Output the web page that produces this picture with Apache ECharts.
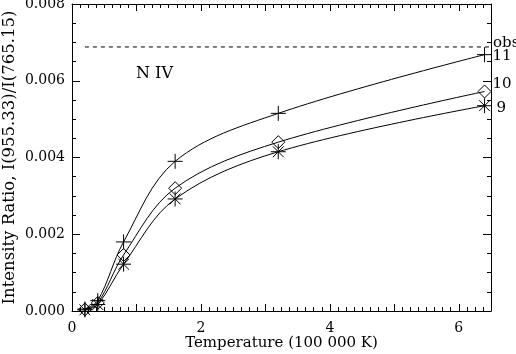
<!DOCTYPE html>
<html><head><meta charset="utf-8">
<script src="https://cdn.jsdelivr.net/npm/echarts@6/dist/echarts.min.js"></script>
<style>html,body{margin:0;padding:0;background:#fff}#c{width:516px;height:354px}</style>
</head><body><div id="c"></div>
<script>
var temps = [0.2, 0.4, 0.8, 1.6, 3.2, 6.4];
var ratio11 = [0.00005, 0.00027, 0.00180, 0.00390, 0.00515, 0.00668];
var ratio10 = [0.00004, 0.00021, 0.00146, 0.00320, 0.00440, 0.00572];
var ratio9  = [0.00003, 0.00017, 0.00122, 0.00292, 0.00415, 0.00535];
var obsValue = 0.00688;
var obsRange = [0.2, 6.5];
var seriesNames = ['11', '10', '9'];
var xTickLabels = [0, 2, 4, 6];
var yTickLabels = ['0.000', '0.002', '0.004', '0.006', '0.008'];

var FONT = 'DejaVu Serif';
var chart = echarts.init(document.getElementById('c'), null, {renderer: 'canvas'});
function pairs(ys){ return temps.map(function(t,i){ return [t, ys[i]]; }); }
var symPlus = 'path://M0,-1L0,1M-1,0L1,0';
var symDiamond = 'path://M0,-1L1,0L0,1L-1,0Z';
var symStar = 'path://M0,-1L0,1M-1,0L1,0M-0.72,-0.72L0.72,0.72M-0.72,0.72L0.72,-0.72';
var syms = [symPlus, symDiamond, symStar];
var sets = [ratio11, ratio10, ratio9];
var labelOffsets = [[0, 1], [0, -7], [4, 2]];

function xAxisCfg(pos, showLabel) {
  return {
    type: 'value', position: pos, min: 0, max: 6.5, interval: 1,
    axisLine: {show: true, onZero: false, lineStyle: {color: '#000', width: 1}},
    axisTick: {show: true, inside: true, length: 7, lineStyle: {color: '#000'}},
    minorTick: {show: true, splitNumber: 8, length: 4, lineStyle: {color: '#000'}},
    splitLine: {show: false}, minorSplitLine: {show: false},
    axisLabel: {show: showLabel, margin: 10, color: '#000', fontFamily: FONT, fontSize: 14,
      formatter: function(v){ return xTickLabels.indexOf(v) >= 0 ? String(v) : ''; }},
    name: showLabel ? 'Temperature (100 000 K)' : '', nameLocation: 'middle', nameGap: 25,
    nameMoveOverlap: false,
    nameTextStyle: {color: '#000', fontFamily: FONT, fontSize: 15}
  };
}
function yAxisCfg(pos, showLabel) {
  return {
    type: 'value', position: pos, min: 0, max: 0.008, interval: 0.002,
    axisLine: {show: true, onZero: false, lineStyle: {color: '#000', width: 1}},
    axisTick: {show: true, inside: true, length: 8, lineStyle: {color: '#000'}},
    minorTick: {show: true, splitNumber: 4, length: 4, lineStyle: {color: '#000'}},
    splitLine: {show: false}, minorSplitLine: {show: false},
    axisLabel: {show: showLabel, margin: 7, color: '#000', fontFamily: FONT, fontSize: 14,
      formatter: function(v){ var i = Math.round(v / 0.002); return yTickLabels[i] || ''; }},
    name: showLabel ? 'Intensity Ratio, I(955.33)/I(765.15)' : '', nameLocation: 'middle', nameGap: 54,
    nameMoveOverlap: false,
    nameTextStyle: {color: '#000', fontFamily: FONT, fontSize: 16.5}
  };
}

var series = [];
sets.forEach(function(ys, k){
  series.push({
    type: 'line', name: seriesNames[k], data: pairs(ys), smooth: 0.35, showSymbol: false,
    xAxisIndex: 0, yAxisIndex: 0, silent: true, animation: false,
    lineStyle: {color: '#000', width: 1}, itemStyle: {color: '#000'},
    endLabel: {show: true, formatter: seriesNames[k], color: '#000', fontFamily: FONT, fontSize: 15,
      offset: labelOffsets[k], align: 'left'}
  });
  series.push({
    type: 'scatter', data: pairs(ys), symbol: syms[k], symbolSize: k === 1 ? 13 : 15,
    xAxisIndex: 0, yAxisIndex: 0, silent: true, animation: false, clip: true,
    itemStyle: {color: 'rgba(0,0,0,0)', borderColor: '#000', borderWidth: 1, opacity: 1}
  });
});
series.push({
  type: 'line', data: [[obsRange[0], obsValue], [obsRange[1], obsValue]], showSymbol: false,
  silent: true, animation: false, lineStyle: {color: '#000', width: 1, type: [4, 4]},
  endLabel: {show: true, formatter: 'obs', color: '#000', fontFamily: FONT, fontSize: 15, offset: [-6, -4]}
});

chart.setOption({
  backgroundColor: '#fff',
  animation: false,
  grid: {left: 72, right: 25, top: 4, bottom: 43, containLabel: false, outerBoundsMode: 'none'},
  xAxis: [xAxisCfg('bottom', true), xAxisCfg('top', false)],
  yAxis: [yAxisCfg('left', true), yAxisCfg('right', false)],
  graphic: [{type: 'text', left: 136, top: 66, style: {text: 'N IV', fill: '#000', font: '16px "DejaVu Serif"'}}],
  series: series
});
</script></body></html>
